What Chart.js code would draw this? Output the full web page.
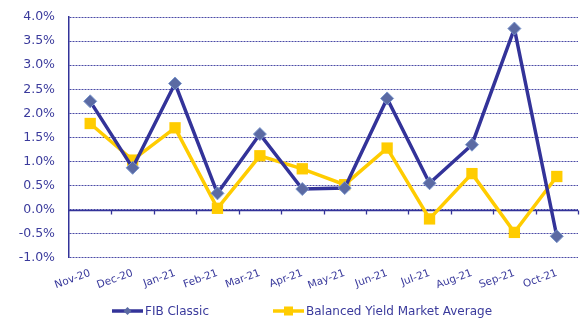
<!DOCTYPE html>
<html>
<head>
<meta charset="utf-8">
<script src="https://cdn.jsdelivr.net/npm/chart.js@4"></script>
<style>
  html, body { margin: 0; padding: 0; background: #fff; }
</style>
</head>
<body>
<canvas id="yieldChart" width="580" height="318"></canvas>
<script>
const months = ['Nov-20', 'Dec-20', 'Jan-21', 'Feb-21', 'Mar-21', 'Apr-21', 'May-21', 'Jun-21', 'Jul-21', 'Aug-21', 'Sep-21', 'Oct-21'];
const fibClassic = [2.25, 0.87, 2.62, 0.34, 1.57, 0.43, 0.45, 2.31, 0.55, 1.35, 3.76, -0.55];
const balancedAvg = [1.79, 1.03, 1.70, 0.03, 1.12, 0.85, 0.52, 1.28, -0.19, 0.75, -0.47, 0.69];

const navy = '#333399';
const gold = '#FFCC00';
const diamondFill = '#5b6aa3';
const textColor = '#3a3a9c';
const font = 'DejaVu Sans';

// zero line with the category tick marks hanging under it
const zeroLine = {
  id: 'zeroLine',
  beforeDatasetsDraw(chart) {
    const { ctx, scales: { x, y } } = chart;
    const y0 = Math.round(y.getPixelForValue(0)) + 0.5;
    ctx.save();
    ctx.strokeStyle = navy;
    ctx.lineWidth = 1.3;
    ctx.beginPath();
    ctx.moveTo(x.left, y0); ctx.lineTo(x.right, y0);
    for (let i = 0; i < months.length; i++) {
      const px = Math.round((x.getPixelForValue(i) + x.getPixelForValue(i + 1)) / 2) + 0.5;
      ctx.moveTo(px, y0); ctx.lineTo(px, y0 + 4);
    }
    ctx.stroke();
    ctx.restore();
  }
};

// legend in the old office style: line swatch with the marker on it
const lineLegend = {
  id: 'lineLegend',
  afterDraw(chart) {
    const ctx = chart.ctx;
    const ly = 311;
    const items = [
      { x: 112, label: chart.data.datasets[0].label, color: navy, marker: 'diamond' },
      { x: 273, label: chart.data.datasets[1].label, color: gold, marker: 'square' }
    ];
    ctx.save();
    ctx.font = '12px "' + font + '"';
    ctx.textBaseline = 'middle';
    items.forEach(it => {
      ctx.strokeStyle = it.color;
      ctx.lineWidth = 3.5;
      ctx.beginPath(); ctx.moveTo(it.x, ly); ctx.lineTo(it.x + 31, ly); ctx.stroke();
      const cx = it.x + 15.5;
      if (it.marker === 'diamond') {
        ctx.fillStyle = diamondFill;
        ctx.beginPath();
        ctx.moveTo(cx, ly - 4); ctx.lineTo(cx + 4, ly); ctx.lineTo(cx, ly + 4); ctx.lineTo(cx - 4, ly);
        ctx.closePath(); ctx.fill();
      } else {
        ctx.fillStyle = gold;
        ctx.fillRect(cx - 4.5, ly - 4.5, 9, 9);
      }
      ctx.fillStyle = textColor;
      ctx.fillText(it.label, it.x + 33, ly + 1);
    });
    ctx.restore();
  }
};

new Chart(document.getElementById('yieldChart').getContext('2d'), {
  type: 'line',
  data: {
    labels: months,
    datasets: [{
      label: 'FIB Classic',
      data: fibClassic,
      borderColor: navy,
      borderWidth: 3.5,
      pointStyle: 'rectRot',
      pointRadius: 6.5,
      pointBackgroundColor: diamondFill,
      pointBorderColor: '#7a96cc',
      pointBorderWidth: 1,
      tension: 0
    }, {
      label: 'Balanced Yield Market Average',
      data: balancedAvg,
      borderColor: gold,
      borderWidth: 3.5,
      pointStyle: 'rect',
      pointRadius: 8,
      pointBackgroundColor: gold,
      pointBorderColor: gold,
      pointBorderWidth: 0,
      tension: 0
    }]
  },
  options: {
    responsive: false,
    animation: false,
    layout: { autoPadding: false, padding: { top: 17, right: 2, left: 0, bottom: 17 } },
    scales: {
      x: {
        offset: true,
        grid: { display: false, drawTicks: false },
        border: { display: false },
        ticks: {
          color: textColor,
          font: { family: font, size: 10.5 },
          autoSkip: false,
          minRotation: 20,
          maxRotation: 20,
          padding: 9
        },
        afterFit(scale) { scale.paddingRight = 0; }
      },
      y: {
        min: -1,
        max: 4,
        grid: {
          color: '#4a4aa6',
          lineWidth: 1,
          drawTicks: false
        },
        border: { display: true, color: navy, width: 1.5, dash: [2, 1] },
        ticks: {
          stepSize: 0.5,
          color: textColor,
          font: { family: font, size: 12.5 },
          padding: 14,
          callback: v => v.toFixed(1) + '%'
        },
        afterFit(scale) { scale.width = 69; scale.paddingTop = 0; scale.paddingBottom = 0; }
      }
    },
    plugins: {
      legend: { display: false },
      tooltip: { enabled: false }
    }
  },
  plugins: [zeroLine, lineLegend]
});
</script>
</body>
</html>
